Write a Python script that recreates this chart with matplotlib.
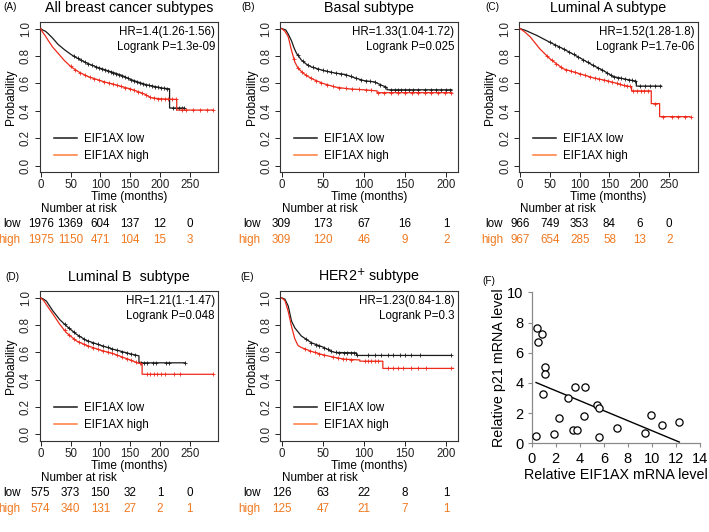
import numpy as np
import matplotlib
matplotlib.use("Agg")
import matplotlib.pyplot as plt
from matplotlib.lines import Line2D

plt.rcParams['font.family'] = ['Liberation Sans', 'DejaVu Sans']

W, H = 709, 532
fig = plt.figure(figsize=(W / 100, H / 100), dpi=100)

BLACK = '#1a1a1a'
RED = '#ee2a1b'
ORANGE_LEG = '#ff7b3a'
ORANGE_TXT = '#f07a22'

# ---------------- data ----------------
titles = ["All breast cancer subtypes", "Basal subtype", "Luminal A subtype",
          "Luminal B  subtype", "HER2$^{+}$ subtype"]
letters = ["(A)", "(B)", "(C)", "(D)", "(E)"]
hr_text = ["HR=1.4(1.26-1.56)", "HR=1.33(1.04-1.72)", "HR=1.52(1.28-1.8)",
           "HR=1.21(1.-1.47)", "HR=1.23(0.84-1.8)"]
p_text = ["Logrank P=1.3e-09", "Logrank P=0.025", "Logrank P=1.7e-06",
          "Logrank P=0.048", "Logrank P=0.3"]

# Survival curves (time in months, probability)
A_low_t = [0, 3, 8, 12, 20, 29, 40, 51, 65, 79, 93, 107, 121, 135, 150, 163, 177, 191, 205, 216, 216, 241]
A_low_s = [1, 0.99, 0.98, 0.965, 0.93, 0.885, 0.845, 0.81, 0.775, 0.745, 0.72, 0.70, 0.68, 0.66, 0.63, 0.61, 0.59, 0.577, 0.565, 0.56, 0.42, 0.42]
A_high_t = [0, 3, 8, 12, 20, 29, 40, 51, 65, 79, 93, 107, 121, 135, 150, 163, 175, 185, 200, 228, 228, 289]
A_high_s = [1, 0.975, 0.945, 0.917, 0.865, 0.82, 0.765, 0.72, 0.68, 0.65, 0.63, 0.61, 0.595, 0.577, 0.56, 0.54, 0.52, 0.495, 0.487, 0.483, 0.405, 0.405]
A_low_c = [55, 62, 68, 74, 80, 86, 92, 97, 102, 107, 112, 117, 122, 127, 132, 137, 142, 147, 152, 157, 162, 167, 172, 177, 182, 187, 192, 197, 202, 207, 212, 221, 226, 231, 236, 241]
A_high_c = [50, 58, 66, 74, 82, 90, 98, 106, 114, 121, 128, 135, 142, 149, 156, 163, 170, 177, 184, 190, 196, 202, 208, 214, 220, 226, 236, 244, 255, 267, 278, 289]

B_low_t = [0, 5, 8, 12, 15, 18, 24, 30, 36, 50, 65, 77, 89, 100, 113, 122, 128, 128, 207]
B_low_s = [1, 0.99, 0.96, 0.91, 0.86, 0.82, 0.77, 0.74, 0.72, 0.695, 0.675, 0.665, 0.64, 0.62, 0.61, 0.585, 0.57, 0.553, 0.553]
B_high_t = [0, 4, 8, 12, 16, 20, 26, 32, 40, 50, 65, 81, 100, 116, 116, 207]
B_high_s = [1, 0.98, 0.94, 0.84, 0.756, 0.71, 0.675, 0.65, 0.625, 0.60, 0.573, 0.56, 0.553, 0.545, 0.532, 0.532]
B_low_c = [20, 26, 32, 38, 44, 50, 55, 60, 66, 72, 78, 84, 90, 96, 102, 108, 114, 120, 126, 133, 137.5, 141.5, 145.6, 149.7, 154.5, 159.8, 165.9, 174, 182, 188, 194, 200, 205]
B_high_c = [15, 20, 25, 30, 36, 42, 48, 55, 62, 70, 78, 86, 94, 102, 109, 117, 125, 133, 141, 150, 158, 166, 174, 182, 190, 198, 206]

C_low_t = [0, 10, 28, 50, 72, 100, 123, 139, 156, 173, 189, 195, 195, 237]
C_low_s = [1, 0.985, 0.95, 0.90, 0.853, 0.787, 0.73, 0.695, 0.65, 0.634, 0.62, 0.615, 0.58, 0.58]
C_high_t = [0, 8, 17, 33, 50, 72, 100, 123, 145, 162, 173, 187, 187, 220, 220, 234, 234, 285]
C_high_s = [1, 0.975, 0.94, 0.853, 0.78, 0.707, 0.67, 0.64, 0.62, 0.60, 0.585, 0.575, 0.545, 0.545, 0.452, 0.452, 0.357, 0.357]
C_low_c = [50, 58, 66, 74, 82, 90, 98, 106, 114, 122, 130, 138, 146, 152, 158, 164, 170, 176, 182, 188, 192, 201, 209, 218, 226, 234.5]
C_high_c = [45, 53, 61, 69, 77, 85, 93, 101, 109, 117, 125, 133, 141, 148, 155, 162, 168, 174, 180, 184, 190, 196, 202, 208, 214, 226, 240, 254, 265, 276, 286]

D_low_t = [0, 5, 9.5, 20.6, 32, 43, 60, 76, 100, 121, 137.5, 150, 164.7, 164.7, 242]
D_low_s = [1, 0.99, 0.976, 0.903, 0.84, 0.794, 0.733, 0.689, 0.653, 0.624, 0.605, 0.59, 0.575, 0.524, 0.524]
D_high_t = [0, 5, 9.5, 20.6, 32, 43, 60, 76, 100, 121, 137.5, 150, 162, 170, 170, 288]
D_high_s = [1, 0.98, 0.95, 0.88, 0.806, 0.745, 0.684, 0.653, 0.617, 0.592, 0.565, 0.545, 0.524, 0.515, 0.44, 0.44]
D_low_c = [40, 48, 56, 64, 72, 80, 88, 96, 104, 112, 120, 128, 136, 144, 152, 158, 167.5, 173.6, 179, 187.5, 193, 209.7, 215, 242]
D_high_c = [40, 48, 56, 64, 72, 80, 88, 96, 104, 112, 120, 128, 136, 144, 152, 160, 166, 178.6, 184, 190, 195, 201, 209, 223, 234, 288]

E_low_t = [0, 4, 8, 12, 16, 24, 36.5, 50, 61, 65, 91, 91, 206]
E_low_s = [1, 0.99, 0.94, 0.83, 0.78, 0.72, 0.67, 0.64, 0.607, 0.60, 0.597, 0.578, 0.578]
E_high_t = [0, 4, 8, 12, 16, 20, 24, 36.5, 50, 65, 77, 95, 95, 123, 123, 209]
E_high_s = [1, 0.98, 0.90, 0.79, 0.70, 0.65, 0.636, 0.607, 0.583, 0.563, 0.55, 0.545, 0.536, 0.536, 0.483, 0.483]
E_low_c = [30, 36, 42, 46, 52, 56, 60, 66, 70, 76, 80, 84, 88, 92, 105, 113, 121, 129, 135, 143.5, 149.6, 157.7, 167.8, 206]
E_high_c = [28, 34, 40, 46, 52, 62, 68, 74, 78, 84, 101, 105, 109, 113, 117, 129, 135, 141.5, 147.6, 157.7, 166, 176, 206]

# Number at risk
risk_times_long = [0, 50, 100, 150, 200, 250]
risk_times_short = [0, 50, 100, 150, 200]
A_risk_low = [1976, 1369, 604, 137, 12, 0]
A_risk_high = [1975, 1150, 471, 104, 15, 3]
B_risk_low = [309, 173, 67, 16, 1]
B_risk_high = [309, 120, 46, 9, 2]
C_risk_low = [966, 749, 353, 84, 6, 0]
C_risk_high = [967, 654, 285, 58, 13, 2]
D_risk_low = [575, 373, 150, 32, 1, 0]
D_risk_high = [574, 340, 131, 27, 2, 1]
E_risk_low = [126, 63, 22, 8, 1]
E_risk_high = [125, 47, 21, 7, 1]

# Panel F scatter
eif1ax = [0.42, 0.50, 0.83, 1.11, 1.11, 0.97, 0.36, 1.89, 2.25, 3.02, 3.60, 4.46,
          3.44, 3.77, 4.38, 5.41, 5.63, 5.63, 7.07, 9.45, 9.92, 10.81, 12.28]
p21 = [7.66, 6.69, 7.24, 5.08, 4.57, 3.29, 0.46, 0.62, 1.70, 2.98, 3.73, 3.73,
       0.90, 0.90, 1.81, 2.54, 2.32, 0.44, 1.02, 0.66, 1.85, 1.21, 1.39]

# ---------------- layout helpers ----------------
def px_axes(left, top, right, bottom):
    return fig.add_axes([left / W, 1 - bottom / H, (right - left) / W, (bottom - top) / H])


def km_panel(box, xlim, xticks, low, high, risk_t, risk_low, risk_high,
             title, letter, letter_xy, hr, pv, lab_off):
    ax = px_axes(*box)
    ax.set_xlim(*xlim)
    ax.set_ylim(-0.045, 1.05)
    for (t, s, c), col in zip([low, high], [BLACK, RED]):
        ax.plot(t, s, color=col, lw=0.9, zorder=3)
        yc = np.interp(c, t, s)
        ax.plot(c, yc, ls='none', marker='+', ms=3.2, mew=0.6, color=col, zorder=3)
    ax.set_xticks(xticks)
    ax.set_yticks([0, 0.2, 0.4, 0.6, 0.8, 1.0])
    ax.set_yticklabels(["0.0", "0.2", "0.4", "0.6", "0.8", "1.0"], rotation=90, va='center')
    ax.tick_params(direction='out', length=3.5, width=0.7, labelsize=8.3, pad=2, colors='#222222')
    for sp in ax.spines.values():
        sp.set_linewidth(0.8)
        sp.set_color('#333333')
    ax.set_ylabel("Probability", fontsize=8.6, labelpad=2)
    ax.set_xlabel("Time (months)", fontsize=8.6, labelpad=0)
    ax.text(0.98, 0.93, hr, transform=ax.transAxes, ha='right', va='center', fontsize=8.3)
    ax.text(0.98, 0.83, pv, transform=ax.transAxes, ha='right', va='center', fontsize=8.3)
    handles = [Line2D([], [], color=BLACK, lw=1.1), Line2D([], [], color=ORANGE_LEG, lw=1.1)]
    ax.legend(handles, ["EIF1AX low", "EIF1AX high"], loc='center left',
              bbox_to_anchor=(0.08, 0.163), frameon=False, fontsize=8.3,
              handlelength=2.0, handletextpad=0.6, labelspacing=0.45,
              borderpad=0, borderaxespad=0)
    ax.text(0.5, 1.0 + 14.0 / (box[3] - box[1]), title, transform=ax.transAxes,
            ha='center', va='center', fontsize=10.3)
    fig.text(letter_xy[0] / W, 1 - letter_xy[1] / H, letter, fontsize=7.2, ha='left', va='center')
    hgt = box[3] - box[1]
    ax.annotate("Number at risk", xy=(0, -37.5 / hgt), xycoords=('data', 'axes fraction'),
                ha='left', va='center', fontsize=8.4, annotation_clip=False)
    for rt, v in zip(risk_t, risk_low):
        ax.annotate(str(v), xy=(rt, -52.5 / hgt), xycoords=('data', 'axes fraction'),
                    ha='center', va='center', fontsize=8.4, annotation_clip=False)
    for rt, v in zip(risk_t, risk_high):
        ax.annotate(str(v), xy=(rt, -68.5 / hgt), xycoords=('data', 'axes fraction'),
                    ha='center', va='center', fontsize=8.4, color=ORANGE_TXT, annotation_clip=False)
    ax.annotate("low", xy=(0, -52.5 / hgt), xycoords=('data', 'axes fraction'),
                xytext=(-lab_off, 0), textcoords='offset pixels',
                ha='right', va='center', fontsize=8.4, annotation_clip=False)
    ax.annotate("high", xy=(0, -68.5 / hgt), xycoords=('data', 'axes fraction'),
                xytext=(-lab_off, 0), textcoords='offset pixels',
                ha='right', va='center', fontsize=8.4, color=ORANGE_TXT, annotation_clip=False)
    return ax


long_ticks = [0, 50, 100, 150, 200, 250]
short_ticks = [0, 50, 100, 150, 200]

km_panel((39.5, 21.7, 218.5, 171.7), (-2, 298), long_ticks,
         (A_low_t, A_low_s, A_low_c), (A_high_t, A_high_s, A_high_c),
         risk_times_long, A_risk_low, A_risk_high, titles[0], letters[0], (3, 7.5),
         hr_text[0], p_text[0], 20)
km_panel((280, 21.7, 457.7, 171.7), (-2, 214), short_ticks,
         (B_low_t, B_low_s, B_low_c), (B_high_t, B_high_s, B_high_c),
         risk_times_short, B_risk_low, B_risk_high, titles[1], letters[1], (241.5, 7.5),
         hr_text[1], p_text[1], 21)
km_panel((518.8, 21.7, 697.8, 171.7), (-2, 298), long_ticks,
         (C_low_t, C_low_s, C_low_c), (C_high_t, C_high_s, C_high_c),
         risk_times_long, C_risk_low, C_risk_high, titles[2], letters[2], (485, 7.5),
         hr_text[2], p_text[2], 17)
km_panel((39.5, 291, 218.5, 440.5), (-2, 298), long_ticks,
         (D_low_t, D_low_s, D_low_c), (D_high_t, D_high_s, D_high_c),
         risk_times_long, D_risk_low, D_risk_high, titles[3], letters[3], (5, 276.5),
         hr_text[3], p_text[3], 20)
km_panel((280, 291, 457.7, 440.5), (-2, 214), short_ticks,
         (E_low_t, E_low_s, E_low_c), (E_high_t, E_high_s, E_high_c),
         risk_times_short, E_risk_low, E_risk_high, titles[4], letters[4], (240, 276.5),
         hr_text[4], p_text[4], 21)

# ---------------- Panel F ----------------
axf = px_axes(531.7, 292.3, 700, 443.3)
axf.set_xlim(0, 14)
axf.set_ylim(0, 10)
x = np.array(eif1ax)
y = np.array(p21)
axf.plot(x, y, ls='none', marker='o', ms=5.2, mfc='white', mec='black', mew=0.9, zorder=3, clip_on=False)
k, b = np.polyfit(x, y, 1)
xl = np.array([x.min(), x.max()])
axf.plot(xl, k * xl + b, color='black', lw=1.0)
axf.set_xticks(range(0, 15, 2))
axf.set_yticks(range(0, 11, 2))
for side in ['top', 'right']:
    axf.spines[side].set_visible(False)
for side in ['left', 'bottom']:
    axf.spines[side].set_color('#8a8a8a')
    axf.spines[side].set_linewidth(0.9)
axf.tick_params(direction='out', length=3, width=0.8, color='#8a8a8a', labelsize=10.5, pad=3)
axf.set_xlabel("Relative EIF1AX mRNA level", fontsize=10.3, labelpad=2)
axf.set_ylabel("Relative p21 mRNA level", fontsize=10.3, labelpad=1)
fig.text(482 / W, 1 - 281.5 / H, "(F)", fontsize=7.2, ha='left', va='center')

fig.savefig("out.png", dpi=100)
